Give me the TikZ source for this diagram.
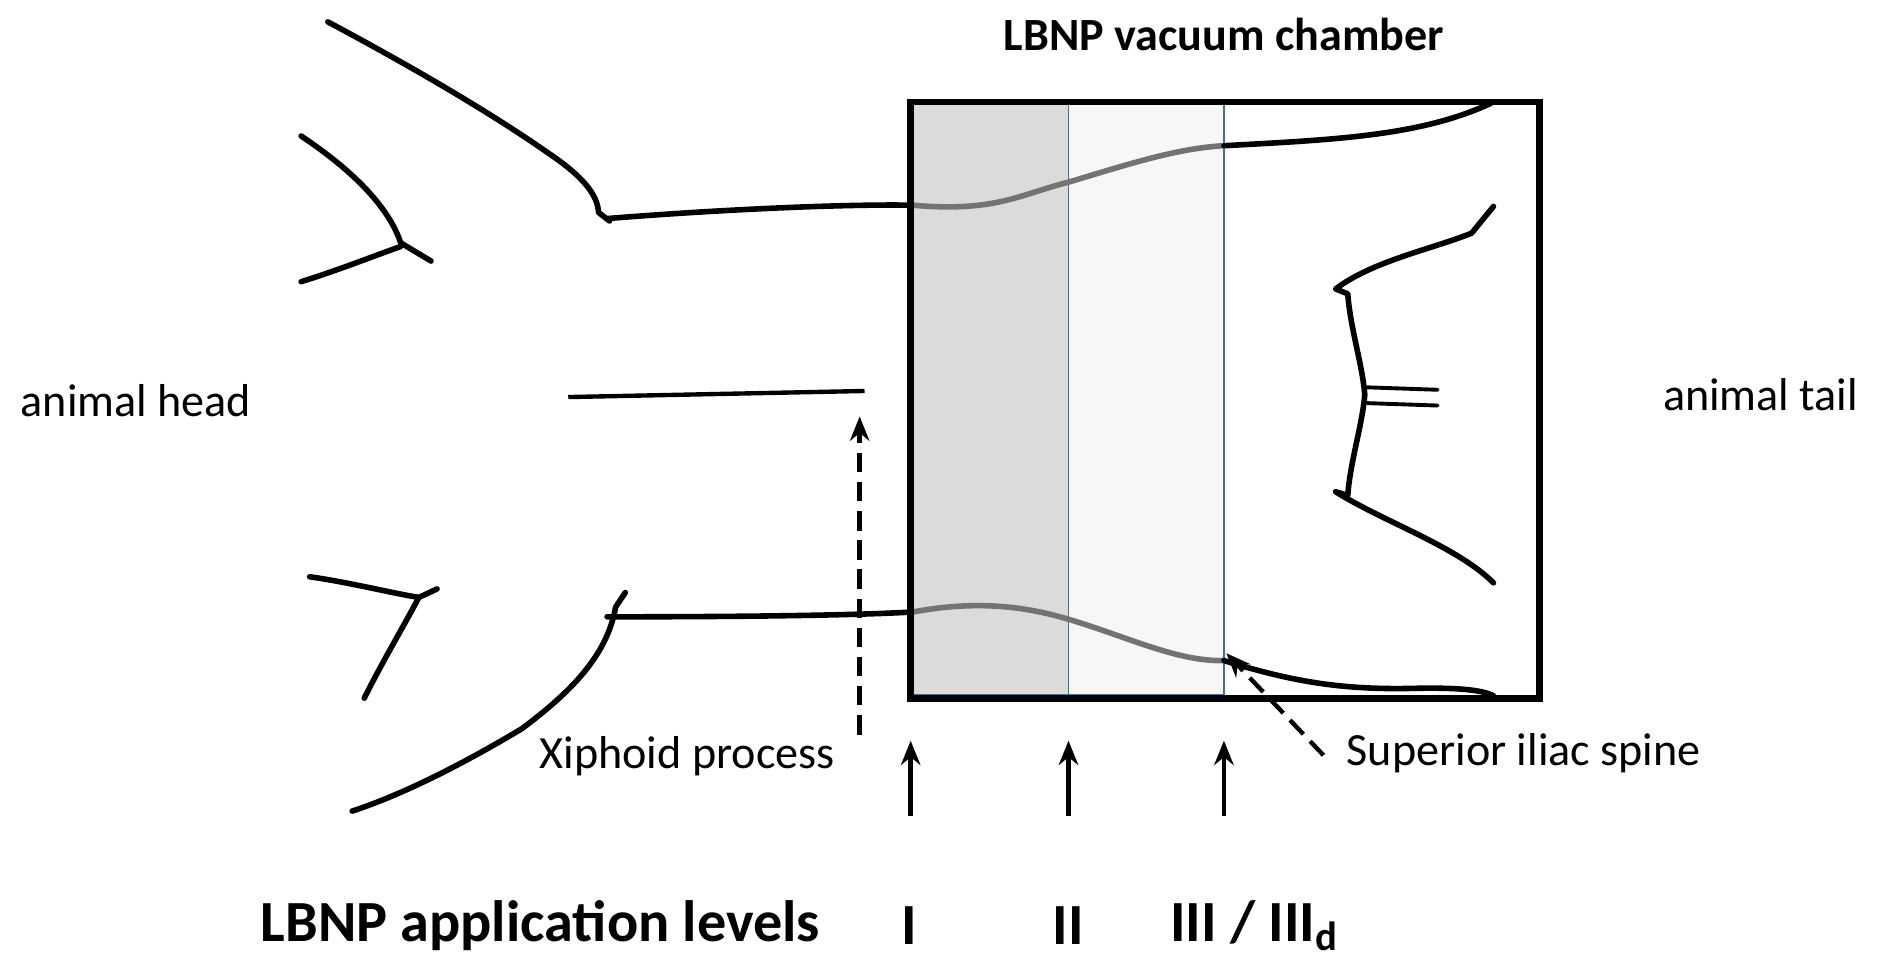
\documentclass[tikz,border=0pt]{standalone}
\usepackage{fontspec}
\setmainfont{Carlito}
\usetikzlibrary{arrows.meta}
\begin{document}
\begin{tikzpicture}[x=0.5pt,y=-0.5pt,
  body/.style={line width=2.3pt,line cap=round,line join=round},
  inbody/.style={body,draw=black!55},
  lbl/.style={font=\fontsize{19}{21}\selectfont},
  big/.style={font=\bfseries\fontsize{24}{26}\selectfont},
  arr/.style={line width=1.8pt,-{Stealth[length=10pt,width=8pt]}},
  darr/.style={arr,dash pattern=on 8pt off 4pt}]
\useasboundingbox (0,0) rectangle (1550,800);
% chamber shading
\fill[black!14] (752,86) rectangle (880,572);
\fill[black!3] (880,86) rectangle (1008,572);
\draw[line width=0.8pt,draw={rgb,255:red,70;green,110;blue,150}] (752,86) rectangle (1008,572) (880,86) -- (880,572);
% upper body
\draw[body] (500,180) .. controls (600,172) and (700,168) .. (752,169);
\draw[inbody] (752,169) .. controls (820,175) and (840,160) .. (880,150) .. controls (930,135) and (970,122) .. (1008,120);
\draw[body] (1008,120) .. controls (1100,115) and (1170,112) .. (1228,85);
% upper limbs
\draw[body] (270,18) .. controls (330,50) and (400,90) .. (450,125) .. controls (480,145) and (492,160) .. (493,175) -- (502,182);
\draw[body] (248,112) .. controls (290,140) and (320,170) .. (330,200) -- (355,215);
\draw[body] (248,232) .. controls (280,222) and (310,210) .. (330,203);
% lower body
\draw[body] (500,508) .. controls (600,508) and (700,507) .. (752,504);
\draw[inbody] (752,504) .. controls (800,495) and (840,498) .. (880,510) .. controls (930,525) and (970,545) .. (1008,544);
\draw[body] (1008,544) .. controls (1060,560) and (1100,568) .. (1160,567) .. controls (1200,566) and (1220,568) .. (1230,573);
% lower limbs
\draw[body] (515,488) -- (507,500) .. controls (500,540) and (470,570) .. (430,600) .. controls (380,630) and (330,655) .. (290,668);
\draw[body] (255,475) .. controls (290,480) and (320,488) .. (345,492) -- (360,485);
\draw[body] (345,492) .. controls (330,520) and (315,545) .. (300,575);
% pelvis
\draw[body] (1230,170) -- (1212,192) .. controls (1180,205) and (1130,215) .. (1100,238) -- (1110,242) .. controls (1112,270) and (1122,300) .. (1124,325) .. controls (1122,350) and (1112,380) .. (1110,408) -- (1100,405) .. controls (1140,430) and (1200,450) .. (1230,480);
\draw[body,line width=1.6pt] (1126,319) -- (1184,321) (1126,332) -- (1184,334);
% chamber frame
\draw[line width=2.8pt] (750,84) rectangle (1268,575);
\node[font=\bfseries\fontsize{19}{21}\selectfont] (title) at (1008,28) {LBNP vacuum chamber};
% xiphoid
\draw[line width=1.8pt] (468,327) -- (712,322);
\coordinate (xt) at (708,343);
\node[lbl] (xiph) at (566,623) {Xiphoid process};
\draw[darr] (708,605) -- (xt);
% superior iliac
\coordinate (st) at (1010,538);
\node[lbl] (sis) at (1255,620) {Superior iliac spine};
\draw[darr] (1090,622) -- (st);
\node[lbl] (head) at (112,330) {animal head};
\node[lbl] (tail) at (1450,325) {animal tail};
% levels
\node[big] (lev) at (445,762) {LBNP application levels};
\node[big] (l1) at (749,762) {I};
\node[big] (l2) at (880,762) {II};
\node[big] (l3) at (1033,762) {III / III\textsubscript{d}};
\coordinate (a1) at (750,610); \coordinate (a2) at (880,610); \coordinate (a3) at (1008,610);
\draw[arr] (750,672) -- (a1);
\draw[arr] (880,672) -- (a2);
\draw[arr] (1008,672) -- (a3);
\end{tikzpicture}
\end{document}
